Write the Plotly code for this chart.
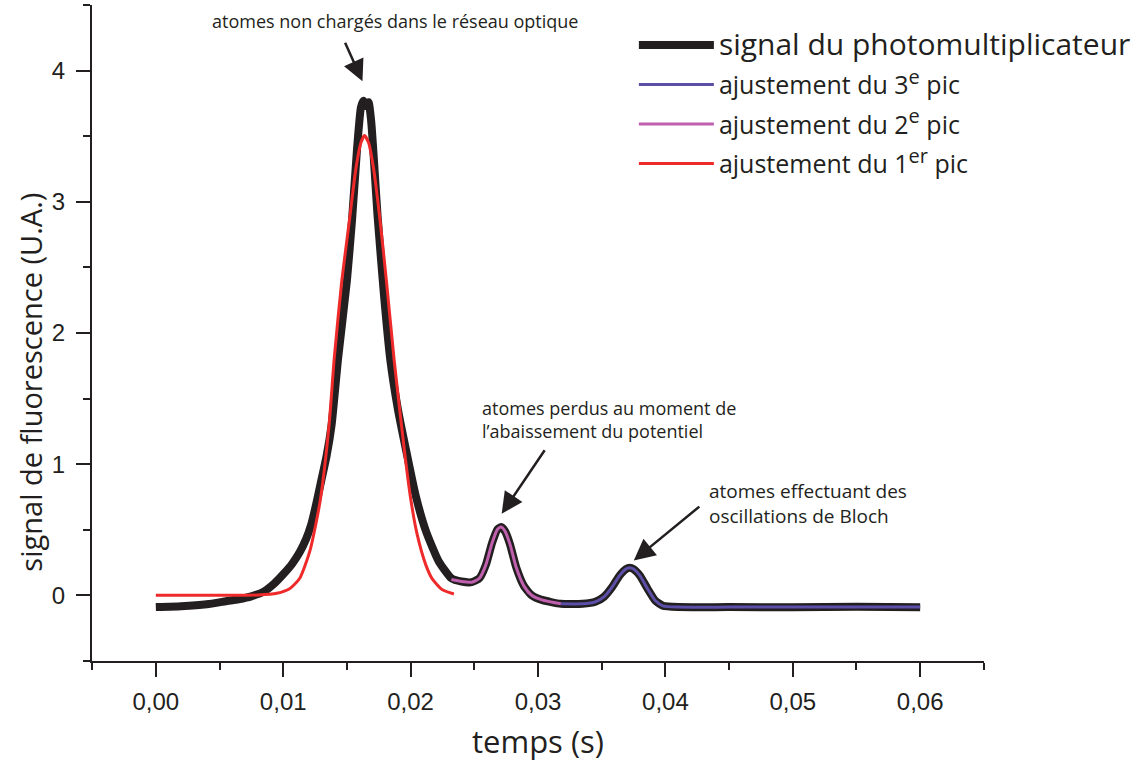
import plotly.graph_objects as go

# --- data ---
sig_t = [0.0000, 0.0020, 0.0040, 0.0055, 0.0065, 0.0075, 0.0085, 0.0093, 0.0100, 0.0107,
         0.0113, 0.0118, 0.0122, 0.0126, 0.0130, 0.0134, 0.0138, 0.0143, 0.0150, 0.0154,
         0.0158, 0.0161, 0.0163, 0.0165, 0.0167, 0.0169, 0.0171, 0.0174, 0.0179, 0.0184,
         0.0190, 0.0197, 0.0204, 0.0212, 0.0222, 0.0232, 0.0240, 0.0248, 0.0254, 0.0259,
         0.0264, 0.0268, 0.0271, 0.0274, 0.0278, 0.0283, 0.0289, 0.0295, 0.0303, 0.0318,
         0.0335, 0.0345, 0.0352, 0.0358, 0.0364, 0.0369, 0.0372, 0.0375, 0.0380, 0.0386,
         0.0392, 0.0398, 0.0410, 0.0450, 0.0500, 0.0550, 0.0600]
sig_v = [-0.090, -0.083, -0.068, -0.045, -0.030, -0.008, 0.030, 0.090, 0.160, 0.240,
         0.330, 0.430, 0.540, 0.700, 0.880, 1.060, 1.300, 1.800, 2.400, 2.860,
         3.410, 3.720, 3.770, 3.730, 3.760, 3.620, 3.350, 2.900, 2.300, 1.800,
         1.420, 1.080, 0.760, 0.490, 0.260, 0.130, 0.105, 0.100, 0.130, 0.230,
         0.400, 0.500, 0.520, 0.490, 0.390, 0.210, 0.070, 0.000, -0.035, -0.065,
         -0.065, -0.050, -0.010, 0.060, 0.150, 0.200, 0.210, 0.200, 0.150, 0.050,
         -0.040, -0.080, -0.090, -0.090, -0.092, -0.088, -0.091]

fit1_t = [0.0000, 0.0050, 0.0080, 0.0095, 0.0105, 0.0113, 0.0121, 0.0129, 0.0136, 0.0140,
          0.0146, 0.0152, 0.0157, 0.0161, 0.01638, 0.0167, 0.0171, 0.0176, 0.0181, 0.0187,
          0.0195, 0.0200, 0.0205, 0.0212, 0.0217, 0.0225, 0.0234]
fit1_v = [0.000, 0.000, 0.002, 0.015, 0.050, 0.130, 0.340, 0.720, 1.300, 1.800,
          2.400, 2.860, 3.250, 3.450, 3.505, 3.450, 3.250, 2.860, 2.400, 1.800,
          1.115, 0.740, 0.470, 0.230, 0.125, 0.042, 0.010]

fit2_t = [0.0232, 0.0240, 0.0248, 0.0254, 0.0259, 0.0264, 0.0268, 0.0271, 0.0274, 0.0278,
          0.0283, 0.0289, 0.0295, 0.0303, 0.0318]
fit2_v = [0.120, 0.105, 0.100, 0.130, 0.230, 0.400, 0.500, 0.520, 0.490, 0.390,
          0.210, 0.070, 0.000, -0.035, -0.065]

fit3_t = [0.0318, 0.0335, 0.0345, 0.0352, 0.0358, 0.0364, 0.0369, 0.0372, 0.0375, 0.0380,
          0.0386, 0.0392, 0.0398, 0.0410, 0.0450, 0.0500, 0.0550, 0.0600]
fit3_v = [-0.065, -0.065, -0.050, -0.010, 0.060, 0.150, 0.200, 0.210, 0.200, 0.150,
          0.050, -0.040, -0.080, -0.090, -0.090, -0.090, -0.090, -0.090]

x_ticks = [0.00, 0.01, 0.02, 0.03, 0.04, 0.05, 0.06]
y_ticks = [0, 1, 2, 3, 4]

SUP = '<sup><span style="font-size:20px">{}</span></sup>'
names = {
    "sig": '<span style="font-size:30px">signal du photomultiplicateur</span>',
    "f3": "ajustement du 3" + SUP.format("e") + " pic",
    "f2": "ajustement du 2" + SUP.format("e") + " pic",
    "f1": "ajustement du 1" + SUP.format("er") + " pic",
}

INK = "#231f20"
TXT = "Open Sans, Noto Sans, sans-serif"
NUM = "Liberation Sans, Arial, sans-serif"

fig = go.Figure()
fig.add_trace(go.Scatter(x=sig_t, y=sig_v, mode="lines", name=names["sig"],
                         line=dict(color=INK, width=8, shape="spline", smoothing=0.5),
                         legendrank=1, legendgroup="a"))
fig.add_trace(go.Scatter(x=fit1_t, y=fit1_v, mode="lines", name=names["f1"],
                         line=dict(color="#ee2a2a", width=3, shape="spline", smoothing=0.6),
                         legendrank=4, legendgroup="d"))
fig.add_trace(go.Scatter(x=fit2_t, y=fit2_v, mode="lines", name=names["f2"],
                         line=dict(color="#c05fae", width=3, shape="spline", smoothing=0.6),
                         legendrank=3, legendgroup="c"))
fig.add_trace(go.Scatter(x=fit3_t, y=fit3_v, mode="lines", name=names["f3"],
                         line=dict(color="#5b4fa8", width=3, shape="spline", smoothing=0.6),
                         legendrank=2, legendgroup="b"))

axis_common = dict(showline=True, linecolor=INK, linewidth=2, ticks="outside",
                   tickcolor=INK, tickwidth=2, ticklen=14, showgrid=False, zeroline=False,
                   mirror=False, automargin=False,
                   tickfont=dict(family=NUM, size=24, color=INK))

fig.update_xaxes(range=[-0.00501, 0.06501], tickvals=x_ticks, tickformat=".2f",
                 ticklabelstandoff=4,
                 minor=dict(dtick=0.005, tick0=0, ticklen=7, tickwidth=2, tickcolor=INK,
                            ticks="outside", showgrid=False),
                 title=dict(text="temps (s)", font=dict(family=TXT, size=31, color=INK),
                            standoff=18),
                 **axis_common)
fig.update_yaxes(range=[-0.501, 4.501], tickvals=y_ticks, ticklabelstandoff=6,
                 minor=dict(dtick=0.5, tick0=0, ticklen=7, tickwidth=2, tickcolor=INK,
                            ticks="outside", showgrid=False),
                 **axis_common)

ann_font = dict(family=TXT, size=18, color=INK)
arrow = dict(showarrow=True, arrowhead=2, arrowsize=1.7, arrowwidth=2.5, arrowcolor=INK,
             text="", axref="pixel", ayref="pixel")
annotations = [
    dict(text="signal de fluorescence (U.A.)", xref="paper", yref="paper",
         x=-0.069, y=0.425, textangle=-90, showarrow=False,
         font=dict(family=TXT, size=29, color=INK), xanchor="center", yanchor="middle"),
    dict(text="atomes non chargés dans le réseau optique", x=0.0188, y=4.378,
         showarrow=False, font=ann_font, xanchor="center", yanchor="middle"),
    dict(x=0.01622, y=3.92, ax=-18, ay=-40, **arrow),
    dict(text="atomes perdus au moment de<br>l’abaissement du potentiel", x=0.02543, y=1.343,
         showarrow=False, font=ann_font, align="left", xanchor="left", yanchor="middle"),
    dict(x=0.02715, y=0.622, ax=44, ay=-65, **arrow),
    dict(text="atomes effectuant des<br>oscillations de Bloch", x=0.04329, y=0.702,
         showarrow=False, font=dict(family=TXT, size=19, color=INK), align="left",
         xanchor="left", yanchor="middle"),
    dict(x=0.03752, y=0.266, ax=67, ay=-55, **arrow),
]
fig.update_layout(
    width=1137, height=767,
    margin=dict(l=92, r=153, t=5, b=106, autoexpand=False),
    paper_bgcolor="white", plot_bgcolor="white",
    separators=", ",
    showlegend=True,
    legend=dict(xref="container", yref="container", x=0.5575, y=0.971,
                xanchor="left", yanchor="top",
                font=dict(family=TXT, size=25, color=INK),
                itemwidth=75, tracegroupgap=4, bgcolor="rgba(0,0,0,0)"),
    annotations=annotations,
)
fig.write_html("out.html", config={"displayModeBar": False},
               post_script="document.body.style.margin='0px';")
